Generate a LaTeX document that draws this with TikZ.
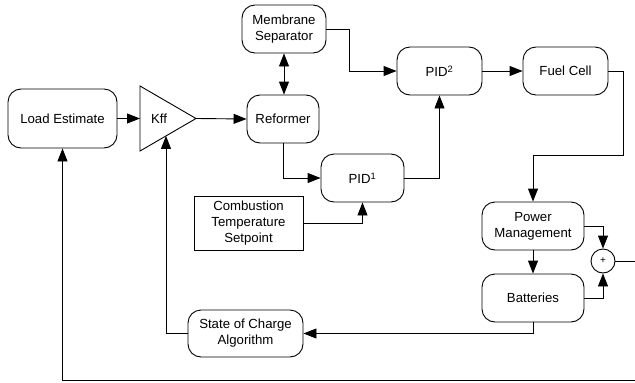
\documentclass[tikz,border=0pt]{standalone}
\usepackage{fontspec}
\setmainfont{Liberation Sans}
\usetikzlibrary{arrows.meta}
\begin{document}
\begin{tikzpicture}[x=1pt,y=-1pt,
  blk/.style={draw, rounded corners=13pt, line width=0.9pt, align=center,
    font=\fontsize{13.2}{16}\selectfont, inner sep=0pt},
  sqbox/.style={draw, line width=0.9pt, align=center,
    font=\fontsize{13.2}{16}\selectfont, inner sep=0pt},
  conn/.style={line width=0.9pt, -{Triangle[length=13pt,width=10pt]}},
  dconn/.style={line width=0.9pt, {Triangle[length=13pt,width=10pt]}-{Triangle[length=13pt,width=10pt]}},
  plain/.style={line width=0.9pt}]
\useasboundingbox (0,0) rectangle (635,383);

% blocks
\node[blk, minimum width=109pt, minimum height=59pt] (load) at (62.5,118.5) {Load Estimate};
\node[blk, minimum width=72pt, minimum height=48pt] (reformer) at (283,119) {Reformer};
\node[blk, minimum width=84pt, minimum height=48pt] (membrane) at (284,29) {Membrane\\Separator};
\node[blk, minimum width=83pt, minimum height=48pt] (pid1) at (362.5,178) {PID\textsuperscript{1}};
\node[blk, minimum width=85pt, minimum height=48pt] (pid2) at (439.5,71) {PID\textsuperscript{2}};
\node[blk, minimum width=85pt, minimum height=48pt] (fuel) at (565.5,71) {Fuel Cell};
\node[blk, minimum width=102pt, minimum height=48pt] (pm) at (533,226) {Power\\Management};
\node[blk, minimum width=102pt, minimum height=48pt] (bat) at (533,298) {Batteries};
\node[blk, minimum width=115pt, minimum height=47pt] (soc) at (245.5,333.5) {State of Charge\\Algorithm};
\node[sqbox, minimum width=109pt, minimum height=54pt] (cts) at (248.5,223) {Combustion\\Temperature\\Setpoint};
\node[draw, circle, line width=0.9pt, minimum size=24pt, inner sep=0pt,
  font=\fontsize{10}{10}\selectfont] (sum) at (603,261) {+};

% gain triangle
\coordinate (kffL) at (140,118.5);
\coordinate (kffA) at (196,118.5);
\coordinate (kffB) at (166,135.9);
\draw[plain] (140,86) -- (kffA) -- (140,151) -- cycle;
\node[font=\fontsize{13.2}{16}\selectfont] (kff) at (159,118.5) {Kff};

% edge coordinates
\coordinate (rightout) at (635,261);
\coordinate (rightbottom) at (635,380);

% connectors
\draw[conn] (load.east) -- (kffL);
\draw[conn] (kffA) -- (reformer.west);
\draw[dconn] (membrane.south) -- (membrane.south |- reformer.north);
\draw[conn] (reformer.south) |- (pid1.west);
\draw[conn] (membrane.east) -- ++(23,0) |- (pid2.west);
\draw[conn] (pid1.east) -| (pid2.south);
\draw[conn] (pid2.east) -- (fuel.west);
\draw[conn] (fuel.east) -- ++(15,0) -- ++(0,84) -| (pm.north);
\draw[conn] (pm.south) -- (bat.north);
\draw[conn] (pm.east) -| (sum.north);
\draw[conn] (bat.east) -| (sum.south);
\draw[plain] (sum.east) -- (rightout);
\draw[conn] (bat.south) |- (soc.east);
\draw[conn] (soc.west) -| (kffB);
\draw[conn] (cts.east) -| (pid1.south);
\draw[conn] (rightbottom) -| (load.south);
\end{tikzpicture}
\end{document}
